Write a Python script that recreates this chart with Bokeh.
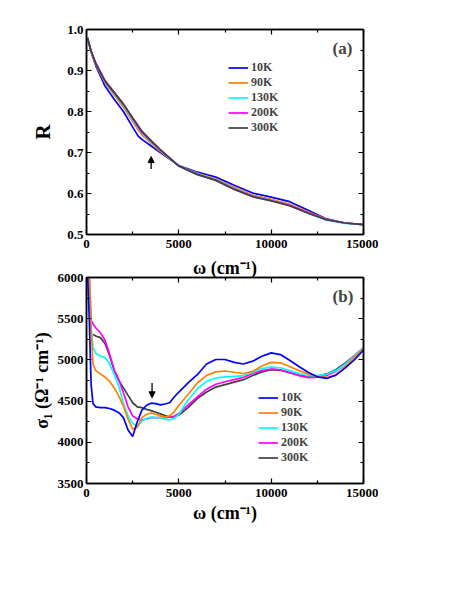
from bokeh.plotting import figure
from bokeh.layouts import column
from bokeh.models import (Range1d, FixedTicker, LinearAxis, Legend, LegendItem,
                          Label, Arrow, NormalHead, Title)
from bokeh.embed import file_html
from bokeh.resources import INLINE

# ---------------- data ----------------
temps = ["10K", "90K", "130K", "200K", "300K"]
colors = ["#0000FF", "#FF8000", "#00FFFF", "#FF00FF", "#404040"]

# panel (a): reflectivity
wa = [50, 250, 500, 1000, 1500, 2000, 2500, 2800, 3000, 3500, 4000, 4500, 5000,
      6000, 7000, 8000, 9000, 10000, 11000, 12000, 13000, 14000, 15000]
R_10K = [0.980, 0.945, 0.912, 0.862, 0.830, 0.800, 0.762, 0.740, 0.732, 0.716, 0.700, 0.684, 0.668,
         0.652, 0.640, 0.620, 0.601, 0.591, 0.580, 0.559, 0.538, 0.528, 0.524]
R_90K = [0.980, 0.946, 0.915, 0.870, 0.840, 0.810, 0.775, 0.755, 0.743, 0.722, 0.703, 0.685, 0.667,
         0.649, 0.636, 0.615, 0.596, 0.586, 0.574, 0.555, 0.537, 0.528, 0.524]
R_130K = [0.980, 0.947, 0.917, 0.873, 0.844, 0.815, 0.780, 0.760, 0.747, 0.725, 0.705, 0.686, 0.667,
          0.648, 0.634, 0.612, 0.594, 0.584, 0.571, 0.552, 0.535, 0.527, 0.524]
R_200K = [0.980, 0.948, 0.919, 0.876, 0.847, 0.818, 0.783, 0.762, 0.749, 0.727, 0.706, 0.687, 0.667,
          0.647, 0.633, 0.611, 0.593, 0.583, 0.571, 0.553, 0.536, 0.528, 0.524]
R_300K = [0.980, 0.947, 0.917, 0.874, 0.846, 0.818, 0.785, 0.765, 0.752, 0.729, 0.707, 0.687, 0.667,
          0.646, 0.632, 0.610, 0.592, 0.582, 0.570, 0.552, 0.536, 0.528, 0.524]

# panel (b): optical conductivity
wb = [50, 150, 250, 350, 500, 750, 1000, 1250, 1500, 1750, 2000, 2250, 2500, 2750, 3000,
      3250, 3500, 3750, 4000, 4250, 4500, 4750, 5000, 5500, 6000, 6500, 7000, 7500, 8000,
      8500, 9000, 9500, 10000, 10500, 11000, 11500, 12000, 12500, 13000, 13500, 14000,
      14500, 15000]
nan = float("nan")
S_10K = [6100, 5500, 4700, 4470, 4430, 4420, 4420, 4410, 4390, 4360, 4300, 4150, 4070, 4250, 4390,
         4450, 4475, 4470, 4455, 4465, 4480, 4550, 4610, 4720, 4820, 4950, 5005, 5005, 4970,
         4950, 4985, 5045, 5085, 5065, 4995, 4920, 4850, 4795, 4775, 4815, 4900, 5000, 5120]
S_90K = [6100, 6100, 5400, 4950, 4870, 4830, 4790, 4740, 4660, 4560, 4440, 4280, 4160, 4180, 4300,
         4340, 4355, 4340, 4320, 4305, 4320, 4370, 4450, 4580, 4720, 4810, 4855, 4865, 4850,
         4835, 4860, 4925, 4970, 4965, 4920, 4870, 4830, 4795, 4785, 4815, 4920, 5030, 5140]
S_130K = [6100, 6000, 5380, 5150, 5080, 5045, 5030, 4955, 4820, 4680, 4475, 4320, 4230, 4190, 4260,
          4290, 4305, 4300, 4300, 4285, 4270, 4290, 4340, 4510, 4650, 4740, 4780, 4795, 4800,
          4810, 4850, 4895, 4915, 4905, 4870, 4835, 4810, 4810, 4825, 4870, 4945, 5045, 5150]
S_200K = [6100, 6000, 5480, 5440, 5390, 5330, 5240, 5070, 4880, 4760, 4600, 4430, 4320, 4285, 4270,
          4285, 4300, 4300, 4300, 4300, 4305, 4315, 4350, 4450, 4550, 4645, 4705, 4735, 4760,
          4790, 4835, 4870, 4890, 4880, 4845, 4810, 4785, 4790, 4810, 4860, 4950, 5050, 5150]
S_300K = [nan, nan, nan, 5310, 5290, 5270, 5200, 5050, 4870, 4750, 4660, 4570, 4480, 4430, 4420,
          4400, 4385, 4365, 4345, 4325, 4305, 4310, 4330, 4420, 4530, 4610, 4670, 4700, 4730,
          4760, 4810, 4855, 4880, 4875, 4845, 4815, 4800, 4805, 4830, 4880, 4960, 5050, 5150]

x_ticks = [0, 5000, 10000, 15000]
x_minor = [2500, 7500, 12500]
ya_ticks = [0.5, 0.6, 0.7, 0.8, 0.9, 1.0]
ya_minor = [0.55, 0.65, 0.75, 0.85, 0.95]
yb_ticks = [3500, 4000, 4500, 5000, 5500, 6000]
yb_minor = [3750, 4250, 4750, 5250, 5750]
ya_labels = {0.5: "0.5", 0.6: "0.6", 0.7: "0.7", 0.8: "0.8", 0.9: "0.9", 1.0: "1.0"}
x_label = "ω (cm⁻¹)"

FONT = "Liberation Serif"


def style_axis(ax, ticks, minor, show_labels=True):
    ax.ticker = FixedTicker(ticks=ticks, minor_ticks=minor)
    ax.major_tick_in = 5
    ax.major_tick_out = 0
    ax.minor_tick_in = 3
    ax.minor_tick_out = 0
    ax.axis_line_width = 1.5
    ax.major_tick_line_width = 1.2
    ax.minor_tick_line_width = 1.2
    ax.major_label_text_font = FONT
    ax.major_label_text_font_style = "bold"
    ax.major_label_text_font_size = "13px"
    ax.axis_label_text_font = FONT
    ax.axis_label_text_font_style = "bold"
    ax.axis_label_text_color = "black"
    if show_labels:
        ax.major_label_text_color = "black"
    else:
        ax.major_label_text_color = None
        ax.major_label_standoff = 0


def make_fig(height, ylo, yhi, top_border, bottom_border):
    p = figure(width=378, height=height, output_backend="svg", toolbar_location=None,
               x_range=Range1d(0, 15000), y_range=Range1d(ylo, yhi),
               min_border_left=86, min_border_right=15,
               min_border_top=top_border, min_border_bottom=bottom_border)
    p.xgrid.visible = False
    p.ygrid.visible = False
    p.outline_line_color = "black"
    p.outline_line_width = 1.5
    p.background_fill_color = "white"
    p.border_fill_color = "white"
    return p


def add_mirror_axes(p, yt, ym):
    top = LinearAxis()
    style_axis(top, x_ticks, x_minor, show_labels=False)
    p.add_layout(top, "above")
    right = LinearAxis()
    style_axis(right, yt, ym, show_labels=False)
    p.add_layout(right, "right")


def make_legend(items, loc):
    return Legend(items=items, location=loc, padding=0, margin=0, spacing=0,
                  glyph_width=20, glyph_height=15, label_height=15, label_standoff=3,
                  label_text_font=FONT, label_text_font_style="bold",
                  label_text_font_size="12px", border_line_color=None,
                  background_fill_alpha=0)


# ---------------- panel (a) ----------------
p1 = make_fig(255, 0.5, 1.0, 29, 21)
style_axis(p1.xaxis[0], x_ticks, x_minor)
style_axis(p1.yaxis[0], ya_ticks, ya_minor)
p1.yaxis[0].major_label_overrides = ya_labels
p1.xaxis[0].major_label_standoff = 5
p1.yaxis[0].axis_label = "R"
p1.yaxis[0].axis_label_text_font_size = "21px"
p1.yaxis[0].major_label_standoff = 3
p1.yaxis[0].axis_label_standoff = 9
add_mirror_axes(p1, ya_ticks, ya_minor)

items_a = []
for name, col, ys in zip(temps, colors, [R_10K, R_90K, R_130K, R_200K, R_300K]):
    r = p1.line(wa, ys, line_color=col, line_width=1.7)
    items_a.append(LegendItem(label=name, renderers=[r]))
p1.add_layout(make_legend(items_a, (142, 99)))

p1.add_layout(Label(x=14400, y=0.977, text="(a)", text_align="right", text_baseline="top",
                    text_font=FONT, text_font_style="bold", text_font_size="17px"))
p1.add_layout(Arrow(x_start=3500, y_start=0.660, x_end=3500, y_end=0.690,
                    line_width=1.3, line_color="black",
                    end=NormalHead(size=6, fill_color="black", line_color="black")))

# ---------------- panel (b) ----------------
# the x-axis label of panel (a) sits in the gap between the panels
p2 = make_fig(273, 3500, 6000, 22, 45)
p2.title = Title(text=x_label, align="center", text_font=FONT, text_font_style="bold",
                 text_font_size="18px", text_color="black", standoff=0, offset=0)
style_axis(p2.xaxis[0], x_ticks, x_minor)
style_axis(p2.yaxis[0], yb_ticks, yb_minor)
p2.xaxis[0].axis_label = x_label
p2.xaxis[0].axis_label_text_font_size = "18px"
p2.xaxis[0].major_label_standoff = 5
p2.xaxis[0].axis_label_standoff = 3
p2.yaxis[0].axis_label = "σ₁ (Ω⁻¹ cm⁻¹)"
p2.yaxis[0].axis_label_text_font_size = "18px"
p2.yaxis[0].major_label_standoff = 3
p2.yaxis[0].axis_label_standoff = 3
add_mirror_axes(p2, yb_ticks, yb_minor)

series_b = [S_10K, S_90K, S_130K, S_200K, S_300K]
rends_b = {}
for name, col, ys in reversed(list(zip(temps, colors, series_b))):
    rends_b[name] = p2.line(wb, ys, line_color=col, line_width=1.7)
items_b = [LegendItem(label=name, renderers=[rends_b[name]]) for name in temps]
p2.add_layout(make_legend(items_b, (172, 18)))

p2.add_layout(Label(x=14450, y=5890, text="(b)", text_align="right", text_baseline="top",
                    text_font=FONT, text_font_style="bold", text_font_size="17px"))
p2.add_layout(Arrow(x_start=3550, y_start=4720, x_end=3550, y_end=4540,
                    line_width=1.3, line_color="black",
                    end=NormalHead(size=6, fill_color="black", line_color="black")))

layout = column(p1, p2, spacing=0)
open("out.html", "w").write(file_html(layout, INLINE))
